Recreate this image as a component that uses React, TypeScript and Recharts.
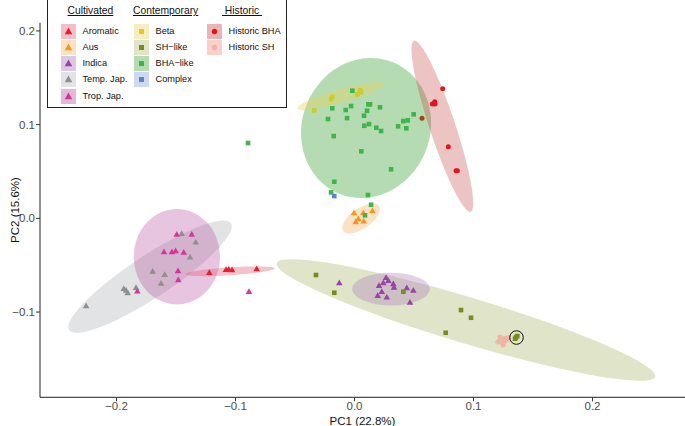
import React from "react";
import { ScatterChart, Scatter, XAxis, YAxis, Cell } from "recharts";

const xTicks = [-0.2, -0.1, 0, 0.1, 0.2];
const yTicks = [-0.1, 0, 0.1, 0.2];

// PCA scores, [PC1, PC2]
const aromatic = [[-0.122, -0.0584], [-0.108, -0.0552], [-0.1057, -0.0549], [-0.1029, -0.0555], [-0.0822, -0.0544]];
const aus = [[-0.0004, 0.0053], [0.0074, 0.0053], [0.015, 0.0075], [0.0032, -0.0011], [0.001, -0.0043], [0.0077, -0.0036]];
const indica = [
  [-0.0128, -0.0694], [0.0265, -0.0637], [0.0284, -0.0669], [0.0326, -0.0704], [0.0206, -0.0723],
  [0.0242, -0.0694], [0.0332, -0.0741], [0.0439, -0.0747], [0.0494, -0.0773], [0.0229, -0.0787],
  [0.0195, -0.0829], [0.0271, -0.0847], [0.0466, -0.0901],
];
const tempJap = [
  [-0.1452, -0.0168], [-0.1334, -0.026], [-0.1382, -0.042], [-0.1696, -0.057], [-0.1595, -0.0605],
  [-0.1626, -0.0698], [-0.1939, -0.0755], [-0.192, -0.0773], [-0.1906, -0.08], [-0.1836, -0.0744],
  [-0.2256, -0.0939],
];
const tropJap = [
  [-0.1494, -0.0175], [-0.1368, -0.0175], [-0.1601, -0.0363], [-0.1534, -0.0363], [-0.1503, -0.0352],
  [-0.1435, -0.0367], [-0.1483, -0.0566], [-0.1481, -0.0662], [-0.1825, -0.0783], [-0.0887, -0.0787],
];
const beta = [[-0.0187, 0.1298], [-0.0197, 0.1273], [0.0046, 0.1369], [0.0055, 0.1348], [0.0024, 0.1323], [-0.0338, 0.1153]];
const shLike = [
  [-0.0324, -0.0605], [-0.017, -0.0794], [0.041, -0.0783], [0.0895, -0.0979], [0.0979, -0.1061],
  [0.0766, -0.1221], [0.1357, -0.127], [0.1368, -0.1256], [0.1349, -0.1285],
];
const bhaLike = [
  [-0.0018, 0.1362], [-0.0187, 0.1174], [-0.0074, 0.1156], [-0.0029, 0.1198], [0.0116, 0.1217],
  [0.013, 0.1217], [0.0214, 0.1185], [0.0105, 0.1148], [0.008, 0.1095], [-0.0223, 0.106],
  [-0.0063, 0.107], [0.0082, 0.0988], [0.0122, 0.1006], [0.0183, 0.0967], [0.0223, 0.0932],
  [0.0366, 0.0982], [0.041, 0.1038], [0.0447, 0.1046], [0.0435, 0.0961], [0.0497, 0.111],
  [-0.0175, 0.0878], [0.0057, 0.0715], [0.0307, 0.0523], [-0.017, 0.0391], [-0.0197, 0.0277],
  [0.0113, 0.0249], [0.0139, 0.0145], [0.0088, 0.0032], [-0.0895, 0.0804],
];
const complex = [[-0.017, 0.0238]];
const historicBHA = [
  [0.0741, 0.1383], [0.0674, 0.1244], [0.0654, 0.122], [0.0676, 0.122], [0.0788, 0.0764],
  [0.0853, 0.0508], [0.0864, 0.0508], [0.0567, 0.1067],
];
const historicSH = [[0.1223, -0.1267], [0.1265, -0.131], [0.129, -0.1278], [0.1248, -0.1352]];
const circled = [[0.1361, -0.1272]];

// ellipses: [centre, end of one semi-axis, end of the other]
const ellAromatic = [[-0.1046, -0.0565], [-0.067, -0.0534], [-0.1044, -0.0607]];
const ellAus = [[0.0055, -0.0002], [0.0206, 0.0131], [0.0103, -0.009]];
const ellIndica = [[0.0307, -0.0755], [0.0634, -0.0755], [0.0307, -0.0581]];
const ellTempJap = [[-0.1718, -0.0623], [-0.1038, -0.0053], [-0.1621, -0.081]];
const ellTropJap = [[-0.1493, -0.041], [-0.113, -0.041], [-0.1493, 0.0099]];
const ellBeta = [[-0.0113, 0.1305], [0.0256, 0.1439], [-0.0097, 0.1234]];
const ellSH = [[0.0936, -0.1085], [0.2525, -0.169], [0.088, -0.132]];
const ellBHA = [[0.0097, 0.0964], [0.0122, 0.1711], [0.0643, 0.0985]];
const ellHistBHA = [[0.0738, 0.0983], [0.05, 0.1895], [0.0841, 0.1027]];
const ellHistSH = [[0.1248, -0.1299], [0.1315, -0.1278], [0.1239, -0.1342]];

const col = {
  aromatic: "#e8202a", aus: "#f5961f", indica: "#9a42a6", tempJap: "#8f8f8f", tropJap: "#d3379c",
  beta: "#f2c31a", betaPt: "#cccb2c", shLike: "#7c8a1b", bhaLike: "#3db54a", complex: "#5a84c6",
  histBHA: "#e0161e", histSH: "#f4b1a6",
};
const shade = {
  aromatic: "#e45c76", aus: "#f2b76c", indica: "#a876bc", tempJap: "#b7b9be", tropJap: "#b750a0",
  beta: "#e6d562", shLike: "#b2bb78", bhaLike: "#46a541", complex: "#82a0d4", histBHA: "#c54648", histSH: "#f08a7a",
};

const toPts = (a: number[][]) => a.map(([x, y]) => ({ x, y }));
const fmt = (v: number) => (v === 0 ? "0.0" : (v < 0 ? "\u2212" : "") + Math.abs(v).toFixed(1));
const font = '"Liberation Sans", Arial, sans-serif';

const tri = (p: any) => {
  const s = 6.6, h = (s * Math.sqrt(3)) / 2;
  return <path d={`M${p.cx},${p.cy - (2 * h) / 3}L${p.cx + s / 2},${p.cy + h / 3}L${p.cx - s / 2},${p.cy + h / 3}Z`} fill={p.fill} />;
};
const sq = (p: any) => <rect x={p.cx - 2.3} y={p.cy - 2.3} width={4.6} height={4.6} fill={p.fill} />;
const dot = (p: any) => <circle cx={p.cx} cy={p.cy} r={2.5} fill={p.fill} />;
const ring = (p: any) => <circle cx={p.cx} cy={p.cy} r={6.8} fill="none" stroke="#111" strokeWidth={1} />;
const hidden = () => <g />;

const ellipse = (fill: string, op: number) => (p: any) => {
  const pts = p.points;
  if (!pts || pts.length < 3) return <g />;
  const [c, a, b] = pts;
  return (
    <ellipse cx={0} cy={0} rx={1} ry={1} fill={fill} fillOpacity={op}
      transform={`matrix(${a.x - c.x},${a.y - c.y},${b.x - c.x},${b.y - c.y},${c.x},${c.y})`} />
  );
};

const ellipses = [
  { d: ellSH, c: shade.shLike, o: 0.4 }, { d: ellBHA, c: shade.bhaLike, o: 0.4 },
  { d: ellTempJap, c: shade.tempJap, o: 0.4 }, { d: ellTropJap, c: shade.tropJap, o: 0.33 },
  { d: ellHistBHA, c: shade.histBHA, o: 0.32 }, { d: ellBeta, c: shade.beta, o: 0.4 },
  { d: ellAus, c: shade.aus, o: 0.4 }, { d: ellIndica, c: shade.indica, o: 0.33 },
  { d: ellAromatic, c: shade.aromatic, o: 0.38 }, { d: ellHistSH, c: shade.histSH, o: 0.45 },
];

const legendCols = [
  { title: "Cultivated", items: [
    { label: "Aromatic", key: "aromatic", shape: "tri" }, { label: "Aus", key: "aus", shape: "tri" },
    { label: "Indica", key: "indica", shape: "tri" }, { label: "Temp. Jap.", key: "tempJap", shape: "tri" },
    { label: "Trop. Jap.", key: "tropJap", shape: "tri" },
  ] },
  { title: "Contemporary", items: [
    { label: "Beta", key: "beta", shape: "sq" }, { label: "SH\u2212like", key: "shLike", shape: "sq" },
    { label: "BHA\u2212like", key: "bhaLike", shape: "sq" }, { label: "Complex", key: "complex", shape: "sq" },
  ] },
  { title: " Historic ", items: [
    { label: "Historic BHA", key: "histBHA", shape: "dot" }, { label: "Historic SH", key: "histSH", shape: "dot" },
  ] },
];
const colLeft = [13, 86, 159];
const headLeft = [19.5, 85, 174];

function KeyIcon({ k, shape }: { k: string; shape: string }) {
  const c = (col as any)[k];
  return (
    <svg width={15} height={15} style={{ position: "absolute", left: 0, top: 0 }}>
      <rect x={0} y={0} width={15} height={15} fill={(shade as any)[k]} fillOpacity={0.4} />
      {shape === "tri" && <path d="M7.5,3.5L11.3,10.3L3.7,10.3Z" fill={c} />}
      {shape === "sq" && <rect x={5} y={5} width={5} height={5} fill={c} />}
      {shape === "dot" && <circle cx={7.5} cy={7.5} r={2.7} fill={c} />}
    </svg>
  );
}

function Legend() {
  return (
    <div style={{ position: "absolute", left: 47, top: -1, width: 240, height: 109, border: "1px solid #222",
      background: "#fff", fontFamily: font, color: "#111", boxSizing: "border-box" }}>
      {legendCols.map((g, i) => (
        <React.Fragment key={g.title}>
          <div style={{ position: "absolute", left: headLeft[i], top: 5, fontSize: 10.3, textDecoration: "underline",
            whiteSpace: "pre", lineHeight: "12px" }}>{g.title}</div>
          {g.items.map((it, j) => (
            <div key={it.label} style={{ position: "absolute", left: colLeft[i], top: 23.5 + j * 16.25, height: 15, width: 80 }}>
              <KeyIcon k={it.key} shape={it.shape} />
              <span style={{ position: "absolute", left: 21.5, top: 2, fontSize: 9.2, lineHeight: "11px", whiteSpace: "nowrap" }}>
                {it.label}
              </span>
            </div>
          ))}
        </React.Fragment>
      ))}
    </div>
  );
}

export default function App() {
  return (
    <div style={{ position: "absolute", left: 0, top: 0, width: 685, height: 426, background: "#fff", fontFamily: font }}>
      <ScatterChart width={685} height={426} margin={{ top: 22.7, right: 0, bottom: 0, left: 0 }}>
        <XAxis type="number" dataKey="x" domain={[-0.2643, 0.2777]} allowDataOverflow ticks={xTicks}
          tickFormatter={fmt} height={28.7} tickSize={4} tickMargin={1}
          tick={{ fill: "#4d4d4d", fontSize: 11.5, fontFamily: font }}
          axisLine={{ stroke: "#222" }} tickLine={{ stroke: "#333" }}
          label={{ value: "PC1 (22.8%)", position: "insideBottom", offset: 1, fill: "#111", fontSize: 11.5, fontFamily: font }} />
        <YAxis type="number" dataKey="y" domain={[-0.191, 0.2088]} allowDataOverflow ticks={yTicks}
          tickFormatter={fmt} width={40} tickSize={4} tickMargin={1}
          tick={{ fill: "#4d4d4d", fontSize: 11.5, fontFamily: font }}
          axisLine={{ stroke: "#222" }} tickLine={{ stroke: "#333" }}
          label={{ value: "PC2 (15.6%)", angle: -90, position: "insideLeft", offset: 7, dx: 8, fill: "#111", fontSize: 11.5,
            fontFamily: font, style: { textAnchor: "middle" } }} />
        {ellipses.map((e, i) => (
          <Scatter key={"e" + i} data={toPts(e.d)} shape={hidden} line={ellipse(e.c, e.o)} isAnimationActive={false} />
        ))}
        <Scatter data={toPts(tempJap)} fill={col.tempJap} shape={tri} isAnimationActive={false} />
        <Scatter data={toPts(tropJap)} fill={col.tropJap} shape={tri} isAnimationActive={false} />
        <Scatter data={toPts(aromatic)} fill={col.aromatic} shape={tri} isAnimationActive={false} />
        <Scatter data={toPts(aus)} fill={col.aus} shape={tri} isAnimationActive={false} />
        <Scatter data={toPts(indica)} fill={col.indica} shape={tri} isAnimationActive={false} />
        <Scatter data={toPts(bhaLike)} fill={col.bhaLike} shape={sq} isAnimationActive={false} />
        <Scatter data={toPts(beta)} fill={col.betaPt} shape={sq} isAnimationActive={false} />
        <Scatter data={toPts(complex)} fill={col.complex} shape={sq} isAnimationActive={false} />
        <Scatter data={toPts(historicSH)} fill={col.histSH} shape={dot} isAnimationActive={false} />
        <Scatter data={toPts(shLike)} fill={col.shLike} shape={sq} isAnimationActive={false} />
        <Scatter data={toPts(historicBHA)} fill={col.histBHA} shape={dot} isAnimationActive={false}>
          {historicBHA.map((_, i) => (
            <Cell key={i} fill={i === historicBHA.length - 1 ? "#a3431c" : col.histBHA} />
          ))}
        </Scatter>
        <Scatter data={toPts(circled)} shape={ring} isAnimationActive={false} />
      </ScatterChart>
      <Legend />
    </div>
  );
}
